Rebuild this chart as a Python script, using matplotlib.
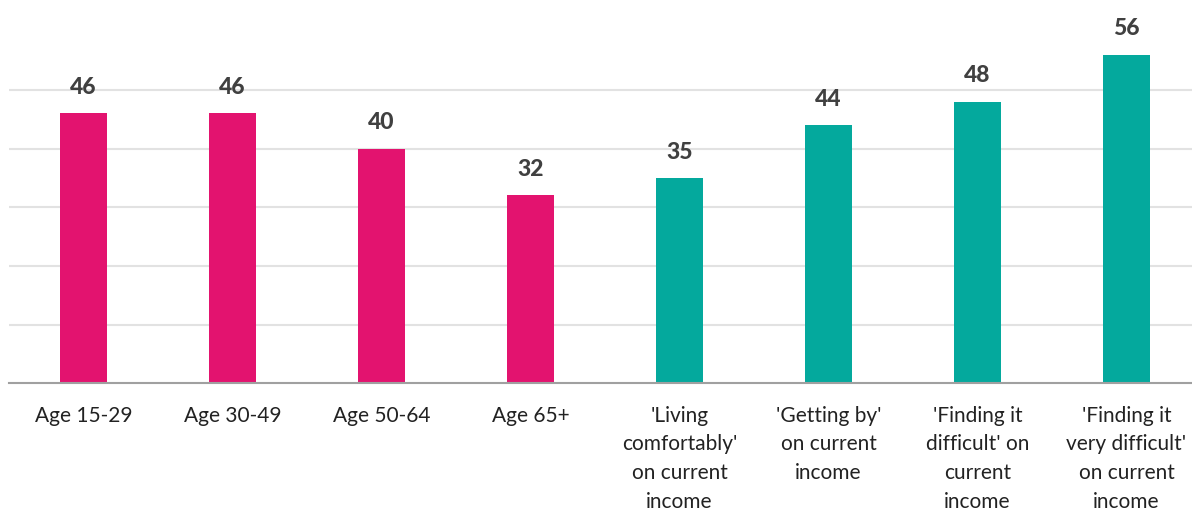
import numpy as np
import matplotlib.pyplot as plt

plt.rcParams['font.family'] = ['Lato', 'DejaVu Sans']

# categories and values
labels = ["Age 15-29", "Age 30-49", "Age 50-64", "Age 65+",
          "'Living\ncomfortably'\non current\nincome",
          "'Getting by'\non current\nincome",
          "'Finding it\ndifficult' on\ncurrent\nincome",
          "'Finding it\nvery difficult'\non current\nincome"]
values = [46, 46, 40, 32, 35, 44, 48, 56]
groups = ["age"] * 4 + ["income"] * 4

colours = {"age": "#E3136F", "income": "#04A99D"}

fig = plt.figure(figsize=(11.92, 5.12), dpi=100)
# axes from x=9px, baseline at y=383px
ax = fig.add_axes([9 / 1192, (512 - 383.3) / 512, (1192 - 9) / 1192, 60 * 5.87 / 512])

x = np.arange(len(values))
bars = ax.bar(x, values, width=47 / 149, color=[colours[g] for g in groups], zorder=3)

for xi, v in zip(x, values):
    ax.annotate(str(v), (xi, v), xytext=(0, 11), textcoords="offset points",
                ha="center", va="bottom", fontsize=16.5, fontweight="black", color="#404040")

ax.set_xlim(-0.5, (1192 - 9) / 149 - 0.5)
ax.set_ylim(0, 60)
ax.set_yticks([10, 20, 30, 40, 50])
ax.yaxis.grid(True, color="#E2E2E2", linewidth=1.5, zorder=0)
ax.tick_params(axis="y", left=False, labelleft=False)
ax.set_xticks(x)
ax.set_xticklabels(labels, fontsize=15, color="#222222", linespacing=1.56, va="top")
ax.tick_params(axis="x", length=0, pad=16)

for s in ["top", "right", "left"]:
    ax.spines[s].set_visible(False)
ax.spines["bottom"].set_color("#A0A0A0")
ax.spines["bottom"].set_linewidth(1.5)
ax.spines["bottom"].set_zorder(4)

fig.savefig("out.png", dpi=100)
